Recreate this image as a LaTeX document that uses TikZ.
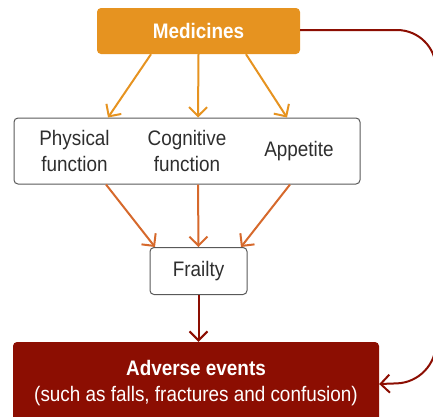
\documentclass[tikz,border=0pt]{standalone}
\usepackage{fontspec}
\setmainfont{Liberation Sans}[FakeStretch=0.9]
\usepackage{xcolor}
\usetikzlibrary{arrows.meta}

\definecolor{medorange}{HTML}{E69320}
\definecolor{midorange}{HTML}{D6692C}
\definecolor{darkred}{HTML}{8C0E02}
\definecolor{textgray}{HTML}{2E2E2E}

\begin{document}
\begin{tikzpicture}[x=1pt, y=-1pt]
	\tikzstyle{box}=[draw=black!65, line width=1pt, rounded corners=4pt, inner sep=0pt, text=textgray, font=\fontsize{21}{26}\selectfont]
	\tikzstyle{filled}=[rounded corners=4pt, inner sep=0pt, text=white, font=\fontsize{21}{26}\selectfont, align=center]
	\tikzstyle{arr}=[line width=2pt, -{Straight Barb[length=9pt, width=18pt, line width=2pt]}]

	\useasboundingbox (0, 0) rectangle (433, 416);
	\clip (0, 0) rectangle (433, 416);

    \draw node[filled, fill=medorange, minimum width=203pt, minimum height=46pt] at (198.5, 31) (med) {\textbf{Medicines}};

	\draw node[box, minimum width=346pt, minimum height=66pt] at (187, 151) (mid) {};
	\draw node[align=center, text=textgray, font=\fontsize{21}{26}\selectfont] at (74.5, 151) (phys) {Physical\\function};
	\draw node[align=center, text=textgray, font=\fontsize{21}{26}\selectfont] at (187, 151) (cogn) {Cognitive\\function};
	\draw node[text=textgray, font=\fontsize{21}{26}\selectfont] at (299, 151) (app) {Appetite};

	\draw node[box, minimum width=97pt, minimum height=47pt] at (198.5, 271) (frail) {Frailty};

	\draw node[filled, fill=darkred, minimum width=366pt, minimum height=82pt] at (196, 383) (adv) {\textbf{Adverse events}\\(such as falls, fractures and confusion)};

	\draw[arr, medorange] ([xshift=-47.5pt]med.south) -- ([xshift=-79pt]mid.north);
	\draw[arr, medorange] (med.south) -- ([xshift=11pt]mid.north);
	\draw[arr, medorange] ([xshift=47.5pt]med.south) -- ([xshift=100pt]mid.north);

	\draw[arr, midorange] ([xshift=-81pt]mid.south) -- ([xshift=-43.5pt]frail.north);
	\draw[arr, midorange] ([xshift=11pt]mid.south) -- (frail.north);
	\draw[arr, midorange] ([xshift=103pt]mid.south) -- ([xshift=42.5pt]frail.north);

	\draw[arr, darkred] (frail.south) -- (adv.north -| frail.south);

	\draw[arr, darkred, rounded corners=39pt] ([yshift=1pt]med.east) -- (436, 30) -- (436, 382) -- ([yshift=-1pt]adv.east);
\end{tikzpicture}
\end{document}
